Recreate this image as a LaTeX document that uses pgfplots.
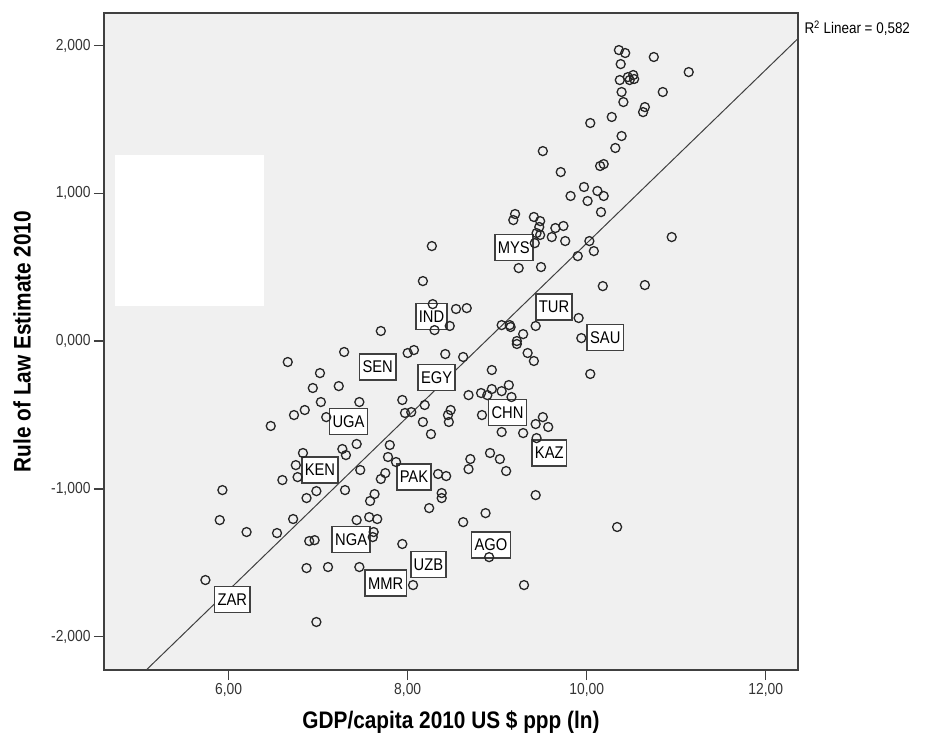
\documentclass[border=0pt]{standalone}
\usepackage{fontspec}
\setmainfont{Liberation Sans}[FakeStretch=0.87]
\usepackage{pgfplots}
\pgfplotsset{compat=1.18}
\definecolor{bgc}{RGB}{240,240,240}
\definecolor{axc}{RGB}{64,64,64}
\begin{document}
\begin{tikzpicture}
\begin{axis}[
  name=ax,
  at={(104bp,69bp)}, anchor=south west,
  scale only axis, width=694bp, height=657bp,
  xmin=4.607, xmax=12.361, ymin=-2.227, ymax=2.221,
  axis background/.style={fill=bgc},
  axis line style={axc, line width=1.5bp},
  tick style={axc, line width=1.5bp},
  major tick length=10bp, tick align=outside,
  xtick pos=lower, ytick pos=left,
  xtick={6,8,10,12}, xticklabels={{6,00},{8,00},{10,00},{12,00}},
  ytick={-2,-1,0,1,2}, yticklabels={{-2,000},{-1,000},{0,000},{1,000},{2,000}},
  tick label style={font=\fontsize{16}{19}\selectfont, text=black!80},
  xlabel={GDP/capita 2010 US \$ ppp (ln)},
  ylabel={Rule of Law Estimate 2010},
  xlabel style={at={(axis description cs:0.5,-0.079)}, anchor=center, font=\fontsize{24}{28}\selectfont\bfseries},
  ylabel style={at={(axis description cs:-0.118,0.5)}, anchor=center, font=\fontsize{24}{28}\selectfont\bfseries},
]
\fill[white] (axis cs:4.726,0.237) rectangle (axis cs:6.394,1.259);
\addplot[only marks, mark=o, mark size=4.5bp, mark options={line width=1.3bp, draw=black!85}] coordinates {
(10.36,1.970) (10.43,1.950) (10.75,1.923) (10.38,1.875) (11.14,1.821)
(10.46,1.787) (10.52,1.801) (10.53,1.774) (10.48,1.767) (10.37,1.767)
(10.85,1.686) (10.39,1.686) (10.41,1.618) (10.65,1.584) (10.63,1.550)
(10.28,1.517) (10.04,1.476) (10.39,1.388) (10.32,1.307) (9.51,1.286)
(9.71,1.144) (10.15,1.185) (10.19,1.198) (9.97,1.043) (10.12,1.016)
(9.82,0.982) (10.19,0.982) (10.01,0.948) (10.16,0.873) (10.95,0.704)
(9.20,0.860) (9.18,0.819) (9.41,0.840) (9.48,0.812) (9.47,0.772)
(9.44,0.731) (9.48,0.718) (9.65,0.765) (9.74,0.779) (9.61,0.704)
(9.76,0.677) (9.42,0.663) (10.03,0.677) (10.08,0.609) (9.90,0.575)
(9.24,0.494) (9.49,0.501) (10.18,0.372) (10.65,0.379) (9.91,0.156)
(9.05,0.108) (9.14,0.108) (9.15,0.095) (9.43,0.102) (9.29,0.047)
(9.22,0.000) (9.22,-0.020) (9.94,0.020) (9.34,-0.081) (9.41,-0.135)
(8.94,-0.196) (10.04,-0.223) (8.54,0.217) (8.66,0.223) (8.47,0.102)
(8.42,-0.088) (8.62,-0.108) (8.27,0.643) (8.17,0.406) (8.28,0.250)
(8.30,0.074) (7.70,0.068) (7.29,-0.074) (6.66,-0.142) (8.00,-0.081)
(8.07,-0.061) (7.02,-0.217) (6.94,-0.318) (7.23,-0.305) (7.03,-0.413)
(6.85,-0.467) (6.73,-0.501) (6.47,-0.575) (7.46,-0.413) (7.94,-0.399)
(7.97,-0.487) (8.04,-0.481) (8.19,-0.433) (8.17,-0.548) (8.26,-0.630)
(7.09,-0.515) (7.43,-0.697) (7.80,-0.704) (7.27,-0.731) (7.31,-0.772)
(6.83,-0.758) (7.78,-0.785) (7.87,-0.819) (8.68,-0.366) (8.82,-0.352)
(8.89,-0.366) (8.94,-0.325) (9.05,-0.339) (9.13,-0.298) (9.16,-0.379)
(8.48,-0.467) (8.45,-0.501) (8.46,-0.548) (8.83,-0.501) (9.05,-0.616)
(9.29,-0.623) (9.51,-0.515) (9.43,-0.562) (9.57,-0.582) (9.44,-0.657)
(8.92,-0.758) (9.03,-0.799) (9.10,-0.880) (8.70,-0.799) (8.68,-0.867)
(8.43,-0.914) (8.34,-0.900) (8.38,-1.029) (8.38,-1.063) (9.43,-1.043)
(8.87,-1.165) (8.62,-1.226) (10.34,-1.259) (8.91,-1.463) (9.30,-1.652)
(6.75,-0.840) (6.77,-0.921) (6.60,-0.941) (7.47,-0.873) (7.75,-0.894)
(7.70,-0.934) (7.30,-1.009) (6.98,-1.016) (6.87,-1.063) (7.63,-1.036)
(7.58,-1.083) (8.24,-1.131) (6.72,-1.205) (6.54,-1.300) (6.20,-1.293)
(7.43,-1.212) (7.57,-1.192) (7.66,-1.205) (7.62,-1.293) (7.61,-1.327)
(6.90,-1.354) (6.96,-1.348) (7.94,-1.374) (6.87,-1.537) (7.11,-1.530)
(7.46,-1.530) (8.06,-1.652) (5.93,-1.009) (5.90,-1.212) (5.74,-1.618)
(6.98,-1.902)
};
\addplot[axc, line width=1bp] coordinates {(5.079,-2.227) (12.361,2.048)};
\tikzset{lab/.style={draw=axc, line width=1.6bp, fill=white, inner xsep=3bp, minimum height=26bp, font=\fontsize{17}{20}\selectfont}}
\node[lab] at (axis cs:9.185,0.634) {MYS};
\node[lab] at (axis cs:9.635,0.230) {TUR};
\node[lab] at (axis cs:10.208,0.025) {SAU};
\node[lab] at (axis cs:8.266,0.165) {IND};
\node[lab] at (axis cs:7.665,-0.175) {SEN};
\node[lab] at (axis cs:8.324,-0.247) {EGY};
\node[lab] at (axis cs:7.339,-0.544) {UGA};
\node[lab] at (axis cs:9.115,-0.485) {CHN};
\node[lab] at (axis cs:9.582,-0.756) {KAZ};
\node[lab] at (axis cs:7.020,-0.873) {KEN};
\node[lab] at (axis cs:8.070,-0.919) {PAK};
\node[lab] at (axis cs:7.369,-1.343) {NGA};
\node[lab] at (axis cs:8.232,-1.513) {UZB};
\node[lab] at (axis cs:7.755,-1.640) {MMR};
\node[lab] at (axis cs:6.040,-1.750) {ZAR};
\node[lab] at (axis cs:8.931,-1.379) {AGO};
\end{axis}
\node[anchor=west, xshift=3bp, yshift=-15bp, font=\fontsize{15.5}{18}\selectfont] at (ax.north east) {R\textsuperscript{2} Linear = 0,582};
\pgfresetboundingbox
\path[use as bounding box] (0,0) rectangle (932bp,739bp);
\end{tikzpicture}
\end{document}
